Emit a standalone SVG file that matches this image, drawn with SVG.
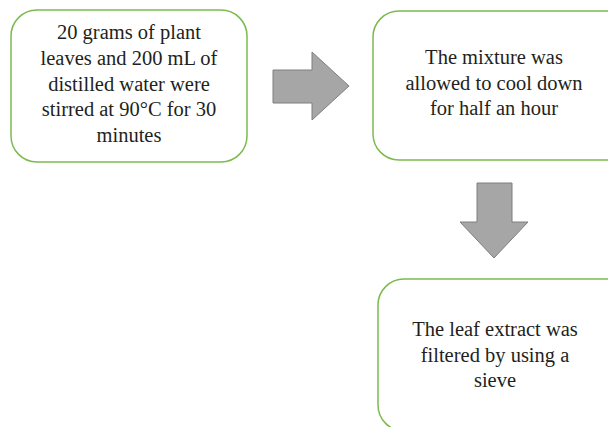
<svg xmlns="http://www.w3.org/2000/svg" width="608" height="427" viewBox="0 0 608 427">
<rect width="608" height="427" fill="#fff"/>
<g id="connectors" fill="#a6a6a6" stroke="#7f7f7f" stroke-width="1">
<path d="M273,70 H312 V52 L349,86 L312,120 V103 H273 Z"/>
<path d="M477,183 H512 V222 H528 L494,258 L460,222 H477 Z"/>
</g>
<g id="n1">
<rect x="11" y="10" width="236" height="152" rx="26" fill="#fff" stroke="#7cba4e" stroke-width="1.5"/>
<text x="129" y="39" style="font-family:'Liberation Serif',serif;font-size:20.5px;fill:#231f20;text-anchor:middle">20 grams of plant</text>
<text x="129" y="65" style="font-family:'Liberation Serif',serif;font-size:20.5px;fill:#231f20;text-anchor:middle">leaves and 200 mL of</text>
<text x="129" y="91" style="font-family:'Liberation Serif',serif;font-size:20.5px;fill:#231f20;text-anchor:middle">distilled water were</text>
<text x="129" y="116" style="font-family:'Liberation Serif',serif;font-size:20.5px;fill:#231f20;text-anchor:middle">stirred at 90°C for 30</text>
<text x="129" y="142" style="font-family:'Liberation Serif',serif;font-size:20.5px;fill:#231f20;text-anchor:middle">minutes</text>
</g>
<g id="n2">
<rect x="373" y="11" width="260" height="149" rx="26" fill="#fff" stroke="#7cba4e" stroke-width="1.5"/>
<text x="494" y="64" style="font-family:'Liberation Serif',serif;font-size:20.5px;fill:#231f20;text-anchor:middle">The mixture was</text>
<text x="494" y="90" style="font-family:'Liberation Serif',serif;font-size:20.5px;fill:#231f20;text-anchor:middle">allowed to cool down</text>
<text x="494" y="115" style="font-family:'Liberation Serif',serif;font-size:20.5px;fill:#231f20;text-anchor:middle">for half an hour</text>
</g>
<g id="n3">
<rect x="378" y="279" width="255" height="152" rx="26" fill="#fff" stroke="#7cba4e" stroke-width="1.5"/>
<text x="495" y="336" style="font-family:'Liberation Serif',serif;font-size:20.5px;fill:#231f20;text-anchor:middle">The leaf extract was</text>
<text x="495" y="362" style="font-family:'Liberation Serif',serif;font-size:20.5px;fill:#231f20;text-anchor:middle">filtered by using a</text>
<text x="495" y="387" style="font-family:'Liberation Serif',serif;font-size:20.5px;fill:#231f20;text-anchor:middle">sieve</text>
</g>
</svg>
